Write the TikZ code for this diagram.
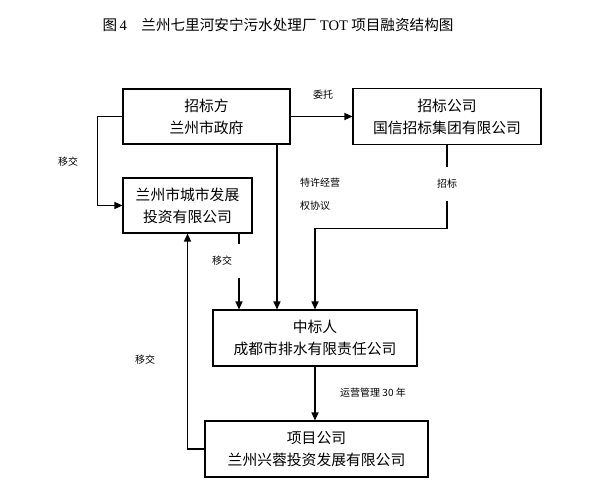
\documentclass[tikz,border=0pt]{standalone}
\usepackage{fontspec}
\setmainfont{Noto Sans CJK SC}
\newfontfamily\lser{Liberation Serif}
\usetikzlibrary{arrows.meta}
\begin{document}
\begin{tikzpicture}[x=1pt,y=-1pt,
  box/.style={draw,line width=1.1pt,align=center,font=\fontsize{14.8}{22}\selectfont,inner sep=0pt},
  conn/.style={line width=1.3pt},
  arr/.style={conn,-{Triangle[length=8pt,width=7pt]}},
  lab/.style={font=\fontsize{10}{12}\selectfont,inner sep=0pt}]
\fill[white] (0,0) rectangle (611,485);
\useasboundingbox (0,0) rectangle (611,485);
\node[font=\fontsize{14.6}{16}\selectfont] (title) at (278,25) {图{\lser\,4}\quad 兰州七里河安宁污水处理厂 {\lser TOT} 项目融资结构图};
\node[box,minimum width=167pt,minimum height=55pt] (b1) at (206.5,116.5) {招标方\\兰州市政府};
\node[box,minimum width=188pt,minimum height=56pt] (b2) at (447,116.5) {招标公司\\国信招标集团有限公司};
\node[box,minimum width=129pt,minimum height=55pt] (b3) at (187.5,205.5) {兰州市城市发展\\投资有限公司};
\node[box,minimum width=204pt,minimum height=56pt] (b4) at (315,338) {中标人\\成都市排水有限责任公司};
\node[box,minimum width=223pt,minimum height=56pt] (b5) at (316.5,449) {项目公司\\兰州兴蓉投资发展有限公司};
% labels
\node[lab] (l1) at (68,162) {移交};
\node[lab] (l2) at (323,95) {委托};
\node[lab,anchor=west] (l3) at (300,183) {特许经营};
\node[lab,anchor=west] (l4) at (300,206) {权协议};
\node[lab,minimum height=34pt] (zb) at (447,184) {招标};
\node[lab] (l5) at (222,261) {移交};
\node[lab] (l6) at (145,360) {移交};
\node[lab] (l7) at (373,393) {运营管理 30 年};
% connectors
\draw[arr] (b1.west) -- ++(-25,0) |- (b3.west);
\draw[arr] (b1.east) -- (b2.west);
\draw[arr] ([xshift=70.5pt]b1.south) -- ([xshift=70.5pt]b1.south |- b4.north);
\draw[conn] (b2.south) -- (zb.north);
\draw[arr] (zb.south) -- ++(0,27) -| (b4.north);
\coordinate (c1) at (239,244);
\coordinate (c2) at (239,278);
\draw[conn] ([xshift=51.5pt]b3.south) -- (c1);
\draw[arr] (c2) -- (c2 |- b4.north);
\draw[arr] (b5.west) -| (b3.south);
\draw[arr] (b4.south) -- (b4.south |- b5.north);
\end{tikzpicture}
\end{document}
